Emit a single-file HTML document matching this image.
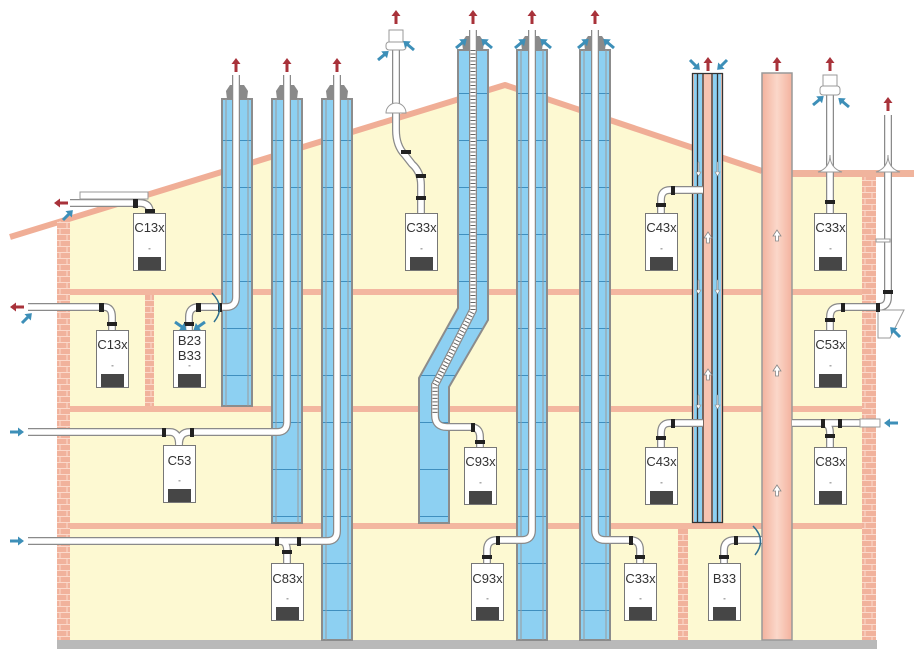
<!DOCTYPE html>
<html><head><meta charset="utf-8"><style>
html,body{margin:0;padding:0;background:#fff;}
svg{display:block;}
.t{font-family:"Liberation Sans","DejaVu Sans",sans-serif;font-size:13px;fill:#333;text-anchor:middle;}
.po{fill:none;stroke:#8a8a8a;stroke-width:8;}
.pi{fill:none;stroke:#fff;stroke-width:5.5;}
</style></head><body>
<svg width="920" height="659" viewBox="0 0 920 659" xmlns="http://www.w3.org/2000/svg">
<defs>
<pattern id="brick" width="14" height="12" patternUnits="userSpaceOnUse">
<rect width="14" height="12" fill="#f1b29c"/>
<path d="M0,0.5H14M0,6.5H14M4,0V6M11,6V12" stroke="#fbd9cb" stroke-width="1"/>
</pattern>
<pattern id="chim" width="30" height="47" patternUnits="userSpaceOnUse">
<rect width="30" height="47" fill="#8dd0f2"/>
<path d="M0,46.5H30" stroke="#3f8fbf" stroke-width="1"/>
</pattern>
<linearGradient id="pink" x1="0" x2="1">
<stop offset="0" stop-color="#f3b29e"/><stop offset="0.5" stop-color="#fbd7c9"/><stop offset="1" stop-color="#f3b29e"/>
</linearGradient>
<g id="boiler">
<rect x="0.5" y="0.5" width="32" height="57" fill="#fff" stroke="#777"/>
<rect x="5" y="44" width="23" height="13" fill="#464646"/>
<rect x="15.5" y="35" width="2" height="1.5" fill="#aaa"/>
</g>
<g id="ra"><path d="M-1.5,14V6H-4.5L0,0L4.5,6H1.5V14Z" fill="#a8323a"/></g>
<g id="ba"><path d="M0,-1.5H8V-4.5L14,0L8,4.5V1.5H0Z" fill="#3d8fb8"/></g>
<g id="ua"><path d="M-1.5,8V3H-4L0,-3L4,3H1.5V8Z" fill="#fff" stroke="#888" stroke-width="0.8"/></g>
</defs>

<polygon points="58,222 505,88 762,174 862,174 862,640 58,640" fill="#fdf9d2"/>
<polyline points="10,237 505,85 762,171" fill="none" stroke="#f0ae96" stroke-width="6" stroke-linejoin="round"/>
<rect x="792" y="170" width="122" height="7" fill="#f0b49d"/>
<rect x="57" y="221" width="13" height="420" fill="url(#brick)"/>
<rect x="862" y="177" width="14" height="464" fill="url(#brick)"/>
<rect x="145" y="295" width="9" height="112" fill="url(#brick)"/>
<rect x="678" y="529" width="10" height="112" fill="url(#brick)"/>
<rect x="70" y="289" width="792" height="6" fill="#f3b7a0"/>
<rect x="70" y="406" width="792" height="6" fill="#f3b7a0"/>
<rect x="70" y="523" width="792" height="6" fill="#f3b7a0"/>
<rect x="57" y="640" width="820" height="9" fill="#b9b9b9"/>

<g stroke="#8c8c8c" stroke-width="2">
<rect x="222" y="99" width="30" height="307" fill="url(#chim)"/>
<rect x="272" y="99" width="30" height="424" fill="url(#chim)"/>
<rect x="322" y="99" width="30" height="541" fill="url(#chim)"/>
<polygon points="458,50 488,50 488,320 449,387 449,523 419,523 419,378 458,308" fill="url(#chim)"/>
<rect x="517" y="50" width="30" height="590" fill="url(#chim)"/>
<rect x="580" y="50" width="30" height="590" fill="url(#chim)"/>
</g>
<g stroke="#9a9a9a" stroke-width="1" fill="none">
<path d="M226,99V406M248,99V406M276,99V523M298,99V523M326,99V640M348,99V640M521,50V640M543,50V640M584,50V640M606,50V640"/>
</g>
<g fill="#8a8a8a">
<path d="M227,99L226,91L230,85H244L248,91L247,99Z"/>
<path d="M277,99L276,91L280,85H294L298,91L297,99Z"/>
<path d="M327,99L326,91L330,85H344L348,91L347,99Z"/>
<path d="M463,50L462,42L466,36H480L484,42L483,50Z"/>
<path d="M522,50L521,42L525,36H539L543,42L542,50Z"/>
<path d="M585,50L584,42L588,36H602L606,42L605,50Z"/>
</g>
<rect x="692" y="73" width="31" height="450" fill="#f6c3b1"/>
<rect x="694" y="73" width="8" height="450" fill="#8dd0f2"/>
<rect x="713" y="73" width="8" height="450" fill="#8dd0f2"/>
<g stroke="#333" stroke-width="1.3">
<path d="M692.5,73V523M697.5,73V523M703,73V523M712,73V523M717.5,73V523M722.5,73V523M692,73.5H723M692,522.5H723"/>
</g>
<rect x="762" y="73" width="30" height="567" fill="url(#pink)" stroke="#999" stroke-width="1.5"/>
<use href="#ua" x="777" y="233"/><use href="#ua" x="777" y="368"/><use href="#ua" x="777" y="488"/>
<use href="#ua" x="708" y="235"/><use href="#ua" x="708" y="372"/>
<g fill="#fff" stroke="#888" stroke-width="0.6">
<path d="M698,162v10h-2l2.5,4l2.5,-4h-2v-10z"/><path d="M717,162v10h-2l2.5,4l2.5,-4h-2v-10z"/>
<path d="M698,280v10h-2l2.5,4l2.5,-4h-2v-10z"/><path d="M717,280v10h-2l2.5,4l2.5,-4h-2v-10z"/>
<path d="M698,395v10h-2l2.5,4l2.5,-4h-2v-10z"/><path d="M717,395v10h-2l2.5,4l2.5,-4h-2v-10z"/>
</g>

<g>
<path class="po" d="M70,203H140Q150,203 150,213"/>
<path class="po" d="M28,307H104Q112,307 112,317V330"/>
<path class="po" d="M189,330V317Q189,307 199,307H226Q236,307 236,297V75"/>
<path class="po" d="M287,75V422Q287,432 277,432H190Q179,432 179,445"/>
<path class="po" d="M28,432H170Q179,432 179,445"/>
<path class="po" d="M28,541H327Q337,541 337,531V75"/>
<path class="po" d="M280,541Q287,541 287,551V563"/>
<path class="po" d="M421,213V185Q421,172 412,164L405,155Q396,146 396,130V40"/>
<path class="po" d="M473,30V310L435,385V415Q435,427 447,427H470Q480,427 480,437V447"/>
<path class="po" d="M532,30V530Q532,540 522,540H497Q487,540 487,550V563"/>
<path class="po" d="M595,30V530Q595,540 605,540H630Q640,540 640,550V563"/>
<path class="po" d="M703,190H670Q661,190 661,200V213"/>
<path class="po" d="M703,423H670Q661,423 661,433V447"/>
<path class="po" d="M762,540H735Q724,540 724,550V563"/>
<path class="po" d="M830,213V90"/>
<path class="po" d="M830,330V317Q830,307 840,307H878Q888,307 888,297V115"/>
<path class="po" d="M792,423H878"/>
<path class="po" d="M822,423Q830,423 830,433V447"/>
</g>
<g>
<path class="pi" d="M70,203H140Q150,203 150,213"/>
<path class="pi" d="M28,307H104Q112,307 112,317V330"/>
<path class="pi" d="M189,330V317Q189,307 199,307H226Q236,307 236,297V75"/>
<path class="pi" d="M287,75V422Q287,432 277,432H190Q179,432 179,445"/>
<path class="pi" d="M28,432H170Q179,432 179,445"/>
<path class="pi" d="M28,541H327Q337,541 337,531V75"/>
<path class="pi" d="M280,541Q287,541 287,551V563"/>
<path class="pi" d="M421,213V185Q421,172 412,164L405,155Q396,146 396,130V40"/>
<path class="pi" d="M473,30V310L435,385V415Q435,427 447,427H470Q480,427 480,437V447"/>
<path class="pi" d="M532,30V530Q532,540 522,540H497Q487,540 487,550V563"/>
<path class="pi" d="M595,30V530Q595,540 605,540H630Q640,540 640,550V563"/>
<path class="pi" d="M703,190H670Q661,190 661,200V213"/>
<path class="pi" d="M703,423H670Q661,423 661,433V447"/>
<path class="pi" d="M762,540H735Q724,540 724,550V563"/>
<path class="pi" d="M830,213V90"/>
<path class="pi" d="M830,330V317Q830,307 840,307H878Q888,307 888,297V115"/>
<path class="pi" d="M792,423H878"/>
<path class="pi" d="M822,423Q830,423 830,433V447"/>
</g>
<path d="M473,50V310L435,385V415" fill="none" stroke="#666" stroke-width="5" stroke-dasharray="1 2.5"/>
<rect x="80" y="192" width="68" height="7" fill="#fff" stroke="#999"/>
<path d="M386,113A10,10 0 0 1 406,113Z" fill="#fff" stroke="#999"/>
<rect x="389" y="30" width="14" height="14" fill="#fff" stroke="#999"/>
<rect x="386" y="42" width="20" height="8" rx="3" fill="#fff" stroke="#999"/>
<rect x="823" y="75" width="14" height="12" fill="#fff" stroke="#999"/>
<rect x="820" y="86" width="20" height="9" rx="3" fill="#fff" stroke="#999"/>
<path d="M818,172Q830,168 830,155Q830,168 842,172Z" fill="#fff" stroke="#999"/>
<path d="M876,172Q888,168 888,155Q888,168 900,172Z" fill="#fff" stroke="#999"/>
<rect x="876" y="239" width="14" height="3" fill="#fff" stroke="#999"/>
<path d="M878,310H904L890,338H878Z" fill="#fff" stroke="#999"/>
<rect x="860" y="419" width="20" height="8" fill="#fff" stroke="#999"/>
<g fill="#222">
<rect x="133" y="199" width="5" height="9"/><rect x="145" y="209" width="10" height="4"/>
<rect x="99" y="303" width="5" height="9"/><rect x="107" y="322" width="10" height="4"/>
<rect x="184" y="322" width="10" height="4"/><rect x="196" y="303" width="5" height="9"/><rect x="218" y="303" width="4" height="9"/>
<rect x="162" y="428" width="4" height="9"/><rect x="190" y="428" width="4" height="9"/>
<rect x="275" y="537" width="4" height="9"/><rect x="297" y="537" width="4" height="9"/><rect x="282" y="550" width="10" height="4"/>
<rect x="416" y="196" width="10" height="4"/><rect x="416" y="174" width="10" height="4"/><rect x="401" y="150" width="10" height="4"/>
<rect x="471" y="423" width="4" height="9"/><rect x="475" y="440" width="10" height="4"/>
<rect x="496" y="536" width="4" height="9"/><rect x="482" y="555" width="10" height="4"/>
<rect x="629" y="536" width="4" height="9"/><rect x="635" y="555" width="10" height="4"/>
<rect x="671" y="186" width="4" height="9"/><rect x="656" y="203" width="10" height="4"/>
<rect x="671" y="419" width="4" height="9"/><rect x="656" y="436" width="10" height="4"/>
<rect x="734" y="536" width="4" height="9"/><rect x="719" y="555" width="10" height="4"/>
<rect x="825" y="200" width="10" height="4"/>
<rect x="841" y="303" width="4" height="9"/><rect x="876" y="303" width="4" height="9"/><rect x="825" y="318" width="10" height="4"/><rect x="883" y="290" width="10" height="4"/>
<rect x="821" y="419" width="4" height="9"/><rect x="838" y="419" width="4" height="9"/><rect x="825" y="434" width="10" height="4"/>
</g>
<g fill="none" stroke="#2f6f8f" stroke-width="1.5">
<path d="M212,293Q226,307 214,322"/>
<path d="M753,526Q767,540 755,555"/>
</g>

<use href="#boiler" x="133" y="213"/><text class="t" x="149.5" y="232">C13x</text>
<use href="#boiler" x="96" y="330"/><text class="t" x="112.5" y="349">C13x</text>
<use href="#boiler" x="173" y="330"/><text class="t" x="189.5" y="345">B23</text><text class="t" x="189.5" y="360">B33</text>
<use href="#boiler" x="405" y="213"/><text class="t" x="421.5" y="232">C33x</text>
<use href="#boiler" x="163" y="445"/><text class="t" x="179.5" y="465">C53</text>
<use href="#boiler" x="271" y="563"/><text class="t" x="287.5" y="583">C83x</text>
<use href="#boiler" x="464" y="447"/><text class="t" x="480.5" y="466">C93x</text>
<use href="#boiler" x="471" y="563"/><text class="t" x="487.5" y="583">C93x</text>
<use href="#boiler" x="645" y="213"/><text class="t" x="661.5" y="232">C43x</text>
<use href="#boiler" x="645" y="447"/><text class="t" x="661.5" y="466">C43x</text>
<use href="#boiler" x="624" y="563"/><text class="t" x="640.5" y="583">C33x</text>
<use href="#boiler" x="708" y="563"/><text class="t" x="724.5" y="583">B33</text>
<use href="#boiler" x="814" y="213"/><text class="t" x="830.5" y="232">C33x</text>
<use href="#boiler" x="814" y="330"/><text class="t" x="830.5" y="349">C53x</text>
<use href="#boiler" x="814" y="447"/><text class="t" x="830.5" y="466">C83x</text>

<use href="#ra" x="236" y="58"/><use href="#ra" x="287" y="58"/><use href="#ra" x="337" y="58"/>
<use href="#ra" x="396" y="10"/><use href="#ra" x="473" y="10"/><use href="#ra" x="532" y="10"/><use href="#ra" x="595" y="10"/>
<use href="#ra" x="708" y="57"/><use href="#ra" x="777" y="57"/><use href="#ra" x="830" y="57"/><use href="#ra" x="888" y="97"/>
<use href="#ra" transform="translate(54,203) rotate(-90)"/>
<use href="#ra" transform="translate(10,307) rotate(-90)"/>
<use href="#ba" transform="translate(63,220) rotate(-45)"/>
<use href="#ba" transform="translate(22,323) rotate(-45)"/>
<use href="#ba" x="10" y="432"/><use href="#ba" x="10" y="541"/>
<use href="#ba" transform="translate(378,60) rotate(-40)"/><use href="#ba" transform="translate(414,50) rotate(220)"/>
<use href="#ba" transform="translate(456,48) rotate(-40)"/><use href="#ba" transform="translate(492,48) rotate(220)"/>
<use href="#ba" transform="translate(515,48) rotate(-40)"/><use href="#ba" transform="translate(551,48) rotate(220)"/>
<use href="#ba" transform="translate(578,48) rotate(-40)"/><use href="#ba" transform="translate(614,48) rotate(220)"/>
<use href="#ba" transform="translate(690,60) rotate(45)"/><use href="#ba" transform="translate(727,60) rotate(135)"/>
<use href="#ba" transform="translate(813,105) rotate(-40)"/><use href="#ba" transform="translate(849,107) rotate(220)"/>
<use href="#ba" transform="translate(900,337) rotate(225)"/>
<use href="#ba" transform="translate(898,423) rotate(180)"/>
<use href="#ba" transform="translate(175,322) rotate(35)"/><use href="#ba" transform="translate(205,322) rotate(145)"/>
</svg>
</body></html>
